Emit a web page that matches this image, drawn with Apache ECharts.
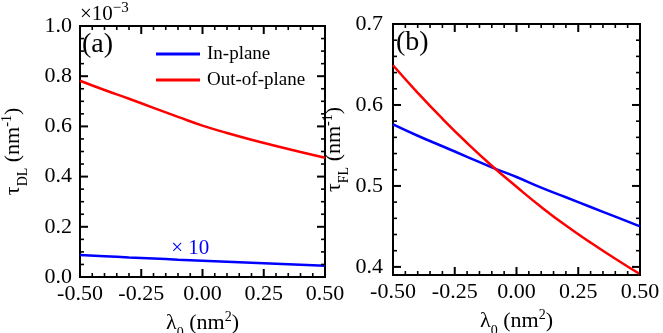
<!DOCTYPE html>
<html>
<head>
<meta charset="UTF-8">
<title>tau vs lambda0</title>
<script src="https://cdn.jsdelivr.net/npm/echarts@6/dist/echarts.min.js"></script>
<style>
  html, body { margin: 0; padding: 0; background: #fff; }
  #main { width: 663px; height: 333px; }
</style>
</head>
<body>
<div id="main"></div>
<script>
// lambda_0 (nm^2)
var lambda0 = [-0.5, -0.4, -0.3, -0.2, -0.1, 0, 0.1, 0.2, 0.3, 0.4, 0.5];
// (a) tau_DL in units of 1e-3 nm^-1 (in-plane curve is drawn x10)
var dlInPlane  = [0.088, 0.083, 0.078, 0.074, 0.069, 0.065, 0.061, 0.057, 0.053, 0.049, 0.045];
var dlOutPlane = [0.782, 0.745, 0.710, 0.674, 0.638, 0.603, 0.574, 0.547, 0.522, 0.498, 0.475];
// (b) tau_FL in nm^-1
var flInPlane  = [0.576, 0.562, 0.549, 0.536, 0.523, 0.511, 0.498, 0.486, 0.474, 0.462, 0.450];
var flOutPlane = [0.649, 0.615, 0.583, 0.553, 0.525, 0.499, 0.474, 0.451, 0.430, 0.410, 0.391];
// tick labels of panel (b) y axis
var flTicks = [0.4, 0.5, 0.6, 0.7];

// tick positions (major / minor), in hundredths to keep them exact
function steps(from, to, step, majorEvery) {
  var out = [];
  for (var k = from; k <= to; k += step) {
    out.push([k / 100, (k - from) % majorEvery === 0 ? 1 : 0]);
  }
  return out;
}
var xTickPos  = steps(-50, 50, 5, 25);   // major 0.25, minor 0.05
var dlTickPos = steps(0, 100, 5, 20);    // major 0.2, minor 0.05
var flTickPos = steps(40, 70, 2, 10);    // major 0.1, minor 0.02

var FONT = 'Liberation Serif';
var BLUE = '#0000ff', RED = '#ff0000';

function pairs(xs, ys) {
  return xs.map(function (x, i) { return [x, ys[i]]; });
}

var nameRich = {
  m: { fontSize: 22, fontFamily: FONT, color: '#000', lineHeight: 26 },
  sub: { fontSize: 14, fontFamily: FONT, color: '#000', verticalAlign: 'bottom', lineHeight: 14, padding: [0, 0, -4, 0] },
  sup: { fontSize: 14, fontFamily: FONT, color: '#000', verticalAlign: 'top', lineHeight: 14 }
};

function axisBase(o) {
  var a = {
    type: 'value',
    splitLine: { show: false },
    axisLine: { show: true, onZero: false, lineStyle: { color: '#000', width: 2 } },
    axisTick: { show: false },
    minorTick: { show: false },
    axisLabel: { show: false }
  };
  for (var key in o) a[key] = o[key];
  return a;
}

function xAxisFor(grid) {
  return axisBase({
    gridIndex: grid, position: 'bottom', min: -0.5, max: 0.5, interval: 0.25,
    axisLabel: {
      show: true, fontSize: 22, fontFamily: FONT, color: '#000', margin: 6,
      formatter: function (v) { return v.toFixed(2); }
    },
    name: '{m|λ}{sub|0}{m| (nm}{sup|2}{m|)}',
    nameLocation: 'middle', nameGap: 31,
    nameTextStyle: { rich: nameRich }
  });
}

// inward ticks on all four sides of a panel, placed through the axis scales
function tickSeries(grid, yTickPos) {
  var data = [];
  xTickPos.forEach(function (t) { data.push([t[0], 0, t[1]]); });
  yTickPos.forEach(function (t) { data.push([t[0], 1, t[1]]); });
  return {
    type: 'custom', coordinateSystem: 'cartesian2d',
    xAxisIndex: grid, yAxisIndex: grid, silent: true, clip: false, z: 5,
    data: data,
    renderItem: function (params, api) {
      var v = api.value(0), kind = api.value(1), major = api.value(2);
      var cs = params.coordSys;
      var len = major ? 8 : 4;
      var style = { stroke: '#000', lineWidth: major ? 2 : 1.6 };
      var a, b;
      if (kind === 0) {
        var px = api.coord([v, api.value(0)])[0];
        a = { x1: px, y1: cs.y + cs.height, x2: px, y2: cs.y + cs.height - len };
        b = { x1: px, y1: cs.y, x2: px, y2: cs.y + len };
      } else {
        var py = api.coord([0, v])[1];
        a = { x1: cs.x, y1: py, x2: cs.x + len, y2: py };
        b = { x1: cs.x + cs.width, y1: py, x2: cs.x + cs.width - len, y2: py };
      }
      return {
        type: 'group',
        children: [
          { type: 'line', shape: a, style: style },
          { type: 'line', shape: b, style: style }
        ]
      };
    }
  };
}

var chart = echarts.init(document.getElementById('main'));

var option = {
  animation: false,
  grid: [
    { left: 80, right: 338, top: 26, bottom: 56, outerBoundsMode: 'none', show: true, borderColor: '#000', borderWidth: 2 },
    { left: 393, right: 23, top: 24, bottom: 58, outerBoundsMode: 'none', show: true, borderColor: '#000', borderWidth: 2 }
  ],
  legend: {
    left: 151, top: 39, orient: 'vertical',
    icon: 'rect', itemWidth: 44, itemHeight: 3, itemGap: 6,
    data: ['In-plane', 'Out-of-plane'],
    textStyle: { fontSize: 19, fontFamily: FONT, color: '#000', lineHeight: 20, padding: [0, 0, 0, 2] }
  },
  xAxis: [xAxisFor(0), xAxisFor(1)],
  yAxis: [
    axisBase({
      gridIndex: 0, position: 'left', min: 0, max: 1, interval: 0.2,
      axisLabel: {
        show: true, fontSize: 22, fontFamily: FONT, color: '#000', margin: 8,
        formatter: function (v) { return v.toFixed(1); }
      },
      name: '{m|τ}{sub|DL}{m| (nm}{sup|-1}{m|)}',
      nameLocation: 'middle', nameGap: 54,
      nameTextStyle: { rich: nameRich }
    }),
    axisBase({
      gridIndex: 1, position: 'left', min: 0.39, max: 0.7,
      axisLabel: {
        show: true, fontSize: 22, fontFamily: FONT, color: '#000', margin: 10,
        customValues: flTicks,
        formatter: function (v) { return v.toFixed(1); }
      },
      name: '{m|τ}{sub|FL}{m| (nm}{sup|-1}{m|)}',
      nameLocation: 'middle', nameGap: 40,
      nameTextStyle: { rich: nameRich }
    })
  ],
  graphic: [
    {
      type: 'text', left: 80, top: 1,
      style: {
        text: '{m|×10}{s|−3}',
        rich: {
          m: { fontSize: 21, fontFamily: FONT, fill: '#000', lineHeight: 24, verticalAlign: 'bottom' },
          s: { fontSize: 15, fontFamily: FONT, fill: '#000', lineHeight: 24, verticalAlign: 'top' }
        }
      }
    },
    { type: 'text', left: 82, top: 31, style: { text: '(a)', fontSize: 28, fontFamily: FONT, fill: '#000' } },
    { type: 'text', left: 396, top: 29, style: { text: '(b)', fontSize: 28, fontFamily: FONT, fill: '#000' } }
  ],
  series: [
    {
      name: 'In-plane', type: 'line', xAxisIndex: 0, yAxisIndex: 0,
      data: pairs(lambda0, dlInPlane), smooth: true, symbol: 'none',
      lineStyle: { color: BLUE, width: 2.5 }, itemStyle: { color: BLUE },
      markPoint: {
        symbol: 'circle', symbolSize: 0,
        data: [{ coord: [-0.05, 0.112] }],
        label: { show: true, position: 'inside', formatter: '× 10', color: BLUE, fontSize: 21, fontFamily: FONT }
      }
    },
    {
      name: 'Out-of-plane', type: 'line', xAxisIndex: 0, yAxisIndex: 0,
      data: pairs(lambda0, dlOutPlane), smooth: true, symbol: 'none',
      lineStyle: { color: RED, width: 2.5 }, itemStyle: { color: RED }
    },
    {
      name: 'In-plane', type: 'line', xAxisIndex: 1, yAxisIndex: 1,
      data: pairs(lambda0, flInPlane), smooth: true, symbol: 'none',
      lineStyle: { color: BLUE, width: 2.5 }, itemStyle: { color: BLUE }
    },
    {
      name: 'Out-of-plane', type: 'line', xAxisIndex: 1, yAxisIndex: 1,
      data: pairs(lambda0, flOutPlane), smooth: true, symbol: 'none',
      lineStyle: { color: RED, width: 2.5 }, itemStyle: { color: RED }
    },
    tickSeries(0, dlTickPos),
    tickSeries(1, flTickPos)
  ]
};

chart.setOption(option);
</script>
</body>
</html>
